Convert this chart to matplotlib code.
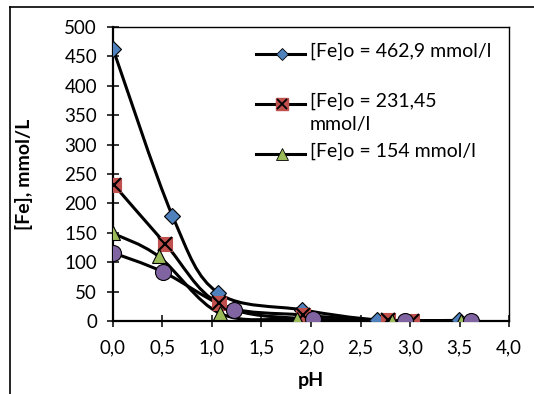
import numpy as np
import matplotlib.pyplot as plt
from matplotlib.path import Path
from matplotlib.patches import PathPatch
from matplotlib.lines import Line2D

plt.rcParams['font.family'] = ['Lato', 'DejaVu Sans']

# Data
ph_1 = [0.0, 0.60, 1.06, 1.91, 2.67, 3.49]
fe_1 = [462.9, 179, 48, 19, 2, 1]

ph_2 = [0.01, 0.53, 1.07, 1.92, 2.78, 3.02]
fe_2 = [231.45, 131, 30, 10, 1, 0.5]

ph_3 = [0.0, 0.46, 1.08, 1.86, 2.82, 3.52]
fe_3 = [149, 110, 13, 3, 0.5, 0.3]

ph_4 = [0.0, 0.51, 1.22, 2.02, 2.95, 3.62]
fe_4 = [116, 83, 19, 3.4, 0.5, 0.3]

labels = ["[Fe]o = 462,9 mmol/l", "[Fe]o = 231,45\nmmol/l", "[Fe]o = 154 mmol/l"]
colors = ["#4F81BD", "#C0504D", "#9BBB59", "#8064A2"]


def smooth_path(x, y):
    # Excel-like smoothed line: cubic Bezier segments through the points
    pts = np.column_stack([x, y])
    n = len(pts)
    verts = [pts[0]]
    codes = [Path.MOVETO]
    for i in range(n - 1):
        p0 = pts[i - 1] if i > 0 else pts[i]
        p1 = pts[i]
        p2 = pts[i + 1]
        p3 = pts[i + 2] if i + 2 < n else pts[i + 1]
        c1 = p1 + (p2 - p0) / 6.0
        c2 = p2 - (p3 - p1) / 6.0
        verts += [c1, c2, p2]
        codes += [Path.CURVE4] * 3
    return Path(verts, codes)


fig = plt.figure(figsize=(5.34, 3.94), dpi=100)
ax = fig.add_axes([0.2116, 0.1853, 0.7416, 0.7462])

series = [(ph_1, fe_1), (ph_2, fe_2), (ph_3, fe_3), (ph_4, fe_4)]
for x, y in series:
    ax.add_patch(PathPatch(smooth_path(x, y), fill=False, edgecolor="black",
                           lw=2.2, zorder=2))

ax.plot(ph_1, fe_1, ls="none", marker="D", ms=8.5, mfc=colors[0], mec="black", mew=0.8, zorder=3)
ax.plot(ph_2, fe_2, ls="none", marker="s", ms=10.5, mfc=colors[1], mec=colors[1], mew=0.8, zorder=3)
ax.plot(ph_2, fe_2, ls="none", marker="x", ms=9.5, mec="black", mew=1.5, zorder=3)
ax.plot(ph_3, fe_3, ls="none", marker="^", ms=10.5, mfc=colors[2], mec="black", mew=0.8, zorder=3)
ax.plot(ph_4, fe_4, ls="none", marker="o", ms=11.5, mfc=colors[3], mec="black", mew=0.8, zorder=3)

ax.set_xlim(0, 4)
ax.set_ylim(0, 500)
ax.set_xticks(np.arange(0, 4.01, 0.5))
ax.set_xticklabels([f"{v:.1f}".replace(".", ",") for v in np.arange(0, 4.01, 0.5)])
ax.set_yticks(range(0, 501, 50))
ax.tick_params(direction="inout", length=9, width=1.1, labelsize=13.5, colors="black")
ax.tick_params(axis="x", pad=9)
ax.tick_params(axis="y", pad=7)
for s in ["left", "bottom"]:
    ax.spines[s].set_linewidth(1.6)
for s in ["top", "right"]:
    ax.spines[s].set_linewidth(1.0)

ax.set_xlabel("pH", fontsize=14, fontweight="bold")
ax.set_ylabel("[Fe], mmol/L", fontsize=14, fontweight="bold")
ax.xaxis.set_label_coords(0.5, -0.175)
ax.yaxis.set_label_coords(-0.202, 0.5)

# legend (first three series only, no frame)
leg_y = [0.908, 0.738, 0.568]
mk = [dict(marker="D", ms=6.5, mfc=colors[0], mec="black", mew=0.6),
      dict(marker="s", ms=8.5, mfc=colors[1], mec=colors[1]),
      dict(marker="^", ms=8.5, mfc=colors[2], mec="black", mew=0.6)]
for yy, lab, m in zip(leg_y, labels, mk):
    ax.plot([0.361, 0.485], [yy, yy], transform=ax.transAxes, color="black",
            lw=2.2, clip_on=False, zorder=4)
    ax.plot([0.427], [yy], transform=ax.transAxes, ls="none", clip_on=False, zorder=5, **m)
    if m["marker"] == "s":
        ax.plot([0.427], [yy], transform=ax.transAxes, ls="none", marker="x", ms=7,
                mec="black", mew=1.3, clip_on=False, zorder=6)
    ax.text(0.497, yy + 0.038, lab, transform=ax.transAxes, fontsize=14,
            va="top", ha="left", linespacing=1.4)

# outer chart border
fig.add_artist(Line2D([0.0187, 1.0], [0.9822, 0.9822], color="black", lw=1.2))
fig.add_artist(Line2D([0.0187, 0.0187], [0.0, 0.9822], color="black", lw=1.2))

fig.savefig("out.png", dpi=100)
